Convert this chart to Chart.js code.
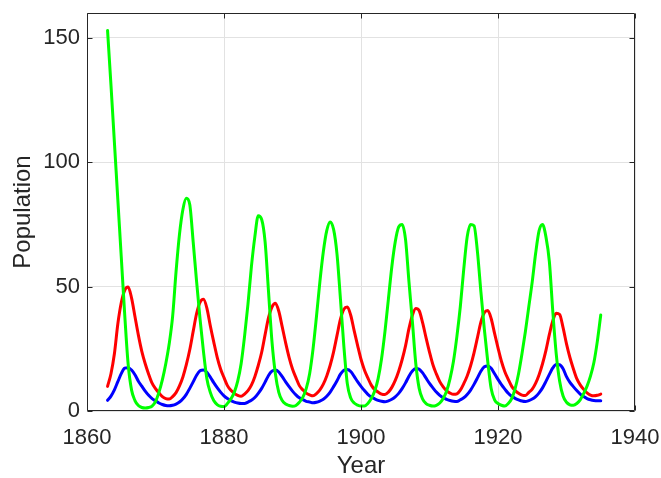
<!DOCTYPE html>
<html><head><meta charset="utf-8">
<script src="https://cdn.jsdelivr.net/npm/chart.js@4/dist/chart.umd.min.js"></script>
<style>html,body{margin:0;padding:0;background:#fff}#wrap{width:661px;height:478px}</style>
</head><body><div id="wrap"><canvas id="c" width="661" height="478"></canvas></div>
<script>
// Time axis (years), one row = 5 years
const years = [
  1863.0,1863.5,1864.0,1864.5,1865.0,1865.5,1866.0,1866.5,1867.0,1867.5,
  1868.0,1868.5,1869.0,1869.5,1870.0,1870.5,1871.0,1871.5,1872.0,1872.5,
  1873.0,1873.5,1874.0,1874.5,1875.0,1875.5,1876.0,1876.5,1877.0,1877.5,
  1878.0,1878.5,1879.0,1879.5,1880.0,1880.5,1881.0,1881.5,1882.0,1882.5,
  1883.0,1883.5,1884.0,1884.5,1885.0,1885.5,1886.0,1886.5,1887.0,1887.5,
  1888.0,1888.5,1889.0,1889.5,1890.0,1890.5,1891.0,1891.5,1892.0,1892.5,
  1893.0,1893.5,1894.0,1894.5,1895.0,1895.5,1896.0,1896.5,1897.0,1897.5,
  1898.0,1898.5,1899.0,1899.5,1900.0,1900.5,1901.0,1901.5,1902.0,1902.5,
  1903.0,1903.5,1904.0,1904.5,1905.0,1905.5,1906.0,1906.5,1907.0,1907.5,
  1908.0,1908.5,1909.0,1909.5,1910.0,1910.5,1911.0,1911.5,1912.0,1912.5,
  1913.0,1913.5,1914.0,1914.5,1915.0,1915.5,1916.0,1916.5,1917.0,1917.5,
  1918.0,1918.5,1919.0,1919.5,1920.0,1920.5,1921.0,1921.5,1922.0,1922.5,
  1923.0,1923.5,1924.0,1924.5,1925.0,1925.5,1926.0,1926.5,1927.0,1927.5,
  1928.0,1928.5,1929.0,1929.5,1930.0,1930.5,1931.0,1931.5,1932.0,1932.5,
  1933.0,1933.5,1934.0,1934.5,1935.0
];
const greenPop = [
  153,131,108,85,62,39,19,8.5,4.2,2.2,
  1.4,1.2,1.4,2.0,3.8,7.5,12.5,19,27,38,
  56,71,81,85.5,83,68,52,37,24,13,
  7.5,4.2,2.6,1.9,1.8,3.0,4.8,7.5,12,19,
  30,43,58,70,78.5,77,68,48,28,15,
  7.5,4.2,2.8,2.2,1.9,2.2,3.5,5.5,9,15,
  25,38,52,64,72.5,76,73,63,45,26,
  11,5.2,3.2,2.4,2.0,2.0,3.0,5.0,8,13,
  21,32,45,58,68,74,75,69,52,36,
  19,9,4.8,3.0,2.3,2.0,2.3,3.2,5.0,8,
  13,20,30,42,57,70,75,74.5,64,48,
  33,20,9,4.5,3.0,2.3,2.0,3.0,5,9,
  15,23,32,42,52,63.5,72.5,75,70,60,
  40,23,12,6,3.5,2.5,2.3,3.0,4.5,7,
  10,14,19.5,28,38.6
];
const redPop = [
  9.9,15,23,35,43.5,48.5,49.8,45.5,38,30.5,
  24,19,14.8,11.2,9,7.3,5.8,5.0,4.8,5.8,
  7.4,10.1,13.7,18.6,24.6,32,39.2,43.7,44.9,41.4,
  34.3,27.8,21.7,16.9,13.4,10.2,8.3,7.1,6.3,5.9,
  6.8,8.2,10.4,13.8,18.3,23.6,30.7,37.5,41.8,43.3,
  40.1,33.8,27.4,21.6,16.9,13.4,10.2,8.5,7.2,6.5,
  6.1,7.0,8.5,10.8,14.1,18.4,23.8,30.4,36.9,40.9,
  41.8,38.5,32.3,26.4,20.8,16.5,13.3,10.4,8.6,7.6,
  6.8,6.6,7.6,9.5,12.3,16,20.6,26.2,33.1,38.5,
  41.2,40.3,35.4,29.4,23.7,18.6,14.9,11.8,9.7,8.1,
  7.2,6.7,6.9,8.4,11,14.1,18.2,23.4,29.5,35.7,
  39.5,40.4,37.2,31.2,25.4,20.0,15.8,12.7,9.9,8.2,
  7.1,6.4,6.2,7.5,8.8,11.2,14.6,19,24.4,30.8,
  36.3,39.3,38.8,33.5,27,21.5,17,13,10.5,8.7,
  7.3,6.4,6.1,6.3,6.8
];
const bluePop = [
  4.3,6.0,8.5,11.8,15.0,17.2,17.4,16.5,14.6,12.0,
  10.0,8.0,6.3,5.0,4.1,3.2,2.6,2.2,2.1,2.3,
  2.8,3.6,4.9,6.7,9.1,11.7,14.4,16.2,16.5,15.6,
  13.6,11.4,9.4,7.6,6.1,5.0,4.2,3.6,3.2,3.0,
  3.0,3.6,4.3,5.4,7.1,9.1,11.6,14.3,16.0,16.5,
  15.7,13.8,11.7,9.8,8.0,6.5,5.3,4.6,3.9,3.6,
  3.3,3.5,4.0,4.7,5.9,7.6,9.8,12.2,14.8,16.4,
  16.7,15.9,13.9,11.8,9.9,8.2,6.7,5.6,4.9,4.3,
  3.9,3.7,4.1,4.7,5.7,7.1,9.0,11.3,14.0,16.1,
  17.1,16.8,15.3,13.2,11.1,9.3,7.6,6.3,5.3,4.7,
  4.2,3.9,3.8,4.5,5.3,6.6,8.4,10.7,13.3,16.0,
  17.8,18.1,17.2,15.0,12.7,10.6,8.8,7.1,5.9,5.1,
  4.5,4.0,3.8,4.2,4.8,5.8,7.3,9.3,11.9,14.7,
  17.3,18.7,18.6,17.0,13.8,11.5,9.8,8.2,6.8,5.8,
  5.0,4.5,4.2,4.1,4.1
];
const xTicks = [1860, 1880, 1900, 1920, 1940];
const yTicks = [0, 50, 100, 150];
const xLabel = 'Year';
const yLabel = 'Population';

const FONT = '"Liberation Sans", Arial, Helvetica, sans-serif';
const TXT = '#262626';
const pts = arr => years.map((t, i) => ({x: t, y: arr[i]}));

const bgPlugin = {
  id: 'bg',
  beforeDraw(chart) {
    const c = chart.ctx;
    c.save(); c.fillStyle = '#ffffff'; c.fillRect(0, 0, chart.width, chart.height); c.restore();
  }
};
const boxPlugin = {
  id: 'box',
  afterDatasetsDraw(chart) {
    const {ctx, chartArea: a, scales: {x, y}} = chart;
    ctx.save();
    ctx.strokeStyle = TXT; ctx.lineWidth = 1;
    const L = Math.round(a.left) + 0.5, R = Math.round(a.right) - 0.5;
    const T = Math.round(a.top) + 0.5, B = Math.round(a.bottom) - 0.5;
    ctx.beginPath();
    ctx.rect(L, T, R - L, B - T);
    const tl = 5;
    xTicks.forEach(v => {
      const px = Math.round(x.getPixelForValue(v)) + 0.5;
      ctx.moveTo(px, B); ctx.lineTo(px, B - tl);
      ctx.moveTo(px, T); ctx.lineTo(px, T + tl);
    });
    yTicks.forEach(v => {
      const py = Math.round(y.getPixelForValue(v)) + 0.5;
      ctx.moveTo(L, py); ctx.lineTo(L + tl, py);
      ctx.moveTo(R, py); ctx.lineTo(R - tl, py);
    });
    ctx.stroke();
    ctx.restore();
  }
};

new Chart(document.getElementById('c'), {
  type: 'line',
  data: {
    datasets: [
      {data: pts(greenPop), borderColor: '#00ff00', order: 0},
      {data: pts(redPop), borderColor: '#ff0000', order: 1},
      {data: pts(bluePop), borderColor: '#0000ff', order: 2}
    ]
  },
  options: {
    responsive: false,
    animation: false,
    devicePixelRatio: 1,
    layout: {padding: {left: 0, top: 13, right: 26, bottom: 0}},
    plugins: {legend: {display: false}, tooltip: {enabled: false}},
    elements: {
      point: {radius: 0},
      line: {borderWidth: 3, cubicInterpolationMode: 'monotone', fill: false, borderJoinStyle: 'round', borderCapStyle: 'round'}
    },
    scales: {
      x: {
        type: 'linear', min: 1860, max: 1940,
        afterBuildTicks: s => { s.ticks = xTicks.map(v => ({value: v})); },
        afterFit: s => { s.height = 67; s.paddingLeft = 0; s.paddingRight = 0; },
        grid: {color: '#e2e2e2', lineWidth: 1, drawTicks: false},
        border: {display: false},
        ticks: {padding: 14, color: TXT, font: {family: FONT, size: 22}, maxRotation: 0, autoSkip: false, callback: v => String(v)},
        title: {display: true, text: xLabel, color: TXT, font: {family: FONT, size: 24}, padding: {top: 0, bottom: -3}}
      },
      y: {
        type: 'linear', min: 0, max: 160,
        afterBuildTicks: s => { s.ticks = yTicks.map(v => ({value: v})); },
        afterFit: s => { s.width = 87; s.paddingTop = 0; s.paddingBottom = 0; },
        grid: {color: '#e2e2e2', lineWidth: 1, drawTicks: false},
        border: {display: false},
        ticks: {padding: 7, color: TXT, font: {family: FONT, size: 22}, autoSkip: false, callback: v => String(v)},
        title: {display: true, text: yLabel, color: TXT, font: {family: FONT, size: 24}, padding: {top: 9, bottom: 0}}
      }
    }
  },
  plugins: [bgPlugin, boxPlugin]
});
</script>
</body></html>
